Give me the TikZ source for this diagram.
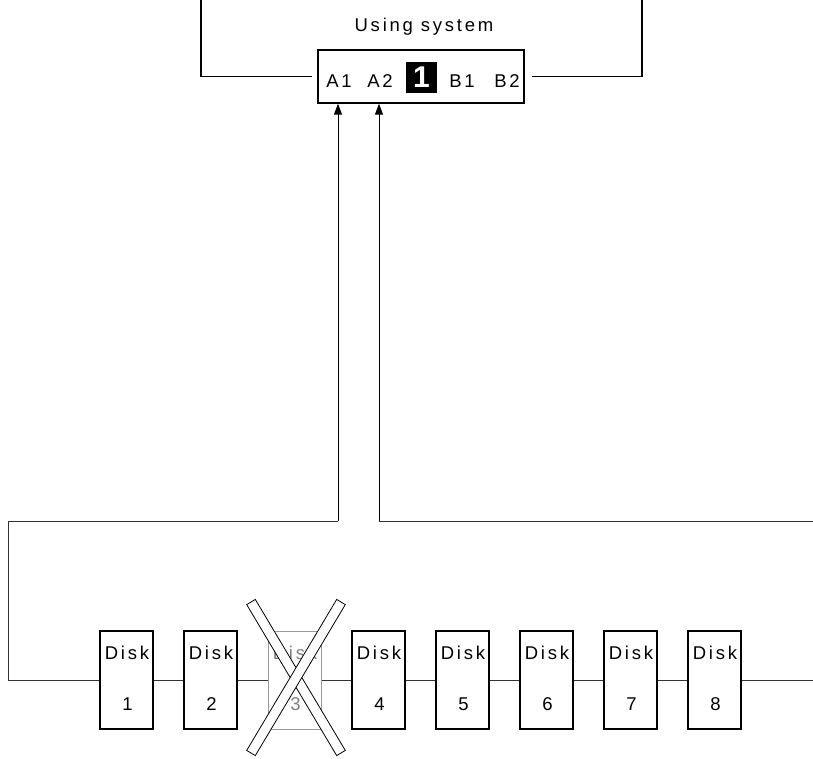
\documentclass[tikz,border=0pt]{standalone}
\usepackage{fontspec}
\setmainfont{Liberation Sans}
\newfontfamily\spaced[LetterSpace=15]{Liberation Sans}
\usetikzlibrary{arrows.meta}
\tikzset{
  txt/.style={inner sep=0pt, anchor=base, font=\spaced\fontsize{18.5}{22}\selectfont},
  diskbox/.style={draw=black, line width=1.5pt, minimum width=53pt, minimum height=98pt, inner sep=0pt, fill=white},
  deadbox/.style={draw=gray!80, line width=1pt, minimum width=53pt, minimum height=98pt, inner sep=0pt},
  wire/.style={draw=black!80, line width=0.9pt},
  topwire/.style={draw=black, line width=1.3pt},
  arr/.style={draw=black, line width=1pt, -{Triangle[length=11pt,width=8pt]}},
  xbar/.style={draw=black, line width=0.8pt, fill=white}
}
\begin{document}
\begin{tikzpicture}[x=1pt,y=-1pt]
\useasboundingbox (0,0) rectangle (813,758);
% using system
\node[txt] (us) at (424,31) {Using system};
\node[draw=black, line width=1.3pt, minimum width=206pt, minimum height=53pt, inner sep=0pt] (sys) at (421,76.5) {};
\node[txt] (a1) at (339,87) {A1};
\node[txt] (a2) at (380,87) {A2};
\node[fill=black, minimum width=31pt, minimum height=31pt, inner sep=0pt] (one) at (421.5,77) {};
\node[inner sep=0pt, text=white, font=\bfseries\fontsize{30}{30}\selectfont] (onet) at (one.center) {1};
\node[txt] (b1) at (462,87) {B1};
\node[txt] (b2) at (507,87) {B2};
\coordinate (tl) at (201,0);
\coordinate (tr) at (642,0);
\draw[topwire] (tl) |- ([xshift=-5pt]sys.west);
\draw[topwire] (tr) |- ([xshift=7pt]sys.east);
% disks
\foreach \i/\x in {1/126.5,2/210.5,4/378.5,5/462.5,6/546.5,7/630.5,8/714.5}{
  \node[diskbox] (d\i) at (\x,680) {};
  \node[txt] (d\i t) at (\x+0.5,659) {Disk};
  \node[txt] (d\i n) at (\x+1,710) {\i};
}
\node[deadbox] (d3) at (294.5,680) {};
\node[txt, text=gray] (d3t) at (295,659) {Disk};
\node[txt, text=gray] (d3n) at (295.5,710) {3};
% chain
\coordinate (cl) at (8,521);
\coordinate (cr) at (813,680);
\coordinate (al) at (338,521);
\coordinate (ar) at (379,521);
\coordinate (ae) at (813,521);
\draw[wire] (al) -- (cl) |- (d1.west);
\draw[wire] (d1.east) -- (d2.west);
\draw[wire] (d2.east) -- (d3.west);
\draw[wire] (d3.east) -- (d4.west);
\draw[wire] (d4.east) -- (d5.west);
\draw[wire] (d5.east) -- (d6.west);
\draw[wire] (d6.east) -- (d7.west);
\draw[wire] (d7.east) -- (d8.west);
\draw[wire] (d8.east) -- (cr);
\draw[wire] (ar) -- (ae);
\draw[arr] (al) -- (al |- sys.south);
\draw[arr] (ar) -- (ar |- sys.south);
% cross over disk 3
\draw[xbar] (246.7,604.6) -- (255.3,599.4) -- (345.3,750.4) -- (336.7,755.6) -- cycle;
\draw[xbar] (345.3,604.6) -- (336.7,599.4) -- (246.7,750.4) -- (255.3,755.6) -- cycle;
\end{tikzpicture}
\end{document}
